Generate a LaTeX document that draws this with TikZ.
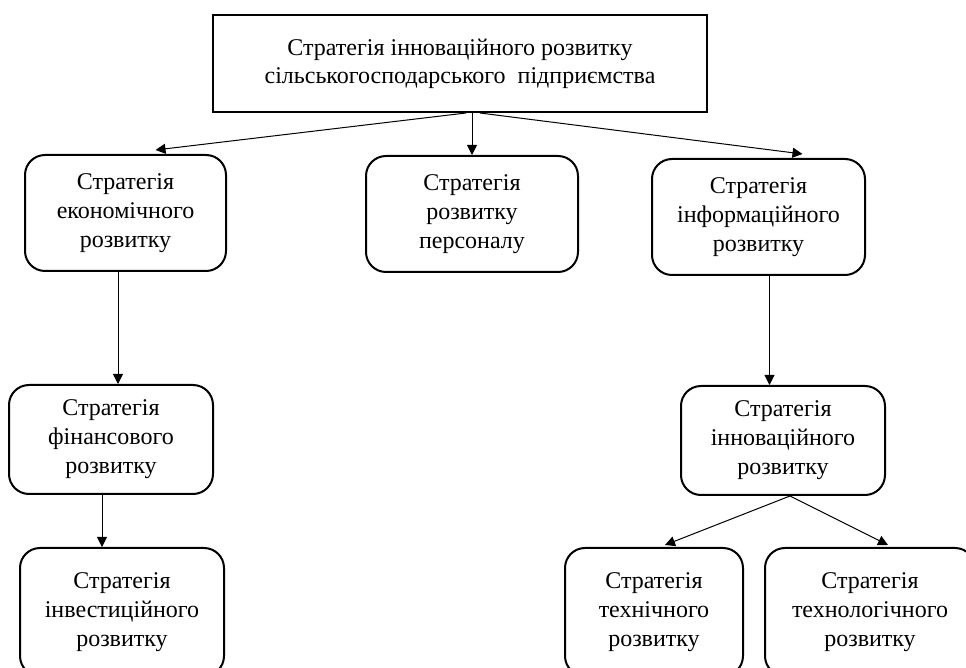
\documentclass[tikz,border=0pt]{standalone}
\usepackage{fontspec}
\setmainfont{Liberation Serif}
\usetikzlibrary{arrows.meta}

\tikzset{
	stratbox/.style={draw,rounded corners=10pt,line width=1pt,align=center,inner sep=0pt,font=\fontsize{12}{14.5}\selectfont},
	mainbox/.style={draw,line width=1pt,align=center,inner sep=0pt,font=\fontsize{12}{14}\selectfont},
	link/.style={-{Triangle[length=5pt,width=5pt]},line width=0.5pt}
}

\begin{document}
\begin{tikzpicture}[x=0.5pt,y=-0.5pt]
	% Page frame
	\useasboundingbox (0,0) rectangle (966,668);
	\clip (0,0) rectangle (966,668);

	% Main strategy
	\node[mainbox,minimum width=247pt,minimum height=48.5pt] (top) at (460,63.5) {Стратегія інноваційного розвитку\\сільськогосподарського\ \ підприємства};

	% First level
	\node[stratbox,minimum width=100.5pt,minimum height=58pt] (econ) at (125.5,213) {Стратегія\\економічного\\розвитку};
	\node[stratbox,minimum width=106pt,minimum height=58pt] (pers) at (472,214) {Стратегія\\розвитку\\персоналу};
	\node[stratbox,minimum width=106.5pt,minimum height=58pt] (info) at (758.5,217) {Стратегія\\інформаційного\\розвитку};

	% Second level
	\node[stratbox,minimum width=102pt,minimum height=54.5pt] (fin) at (111,439.5) {Стратегія\\фінансового\\розвитку};
	\node[stratbox,minimum width=102pt,minimum height=54.5pt] (innov) at (783,440.5) {Стратегія\\інноваційного\\розвитку};

	% Third level
	\node[stratbox,minimum width=102pt,minimum height=64pt] (invest) at (122,612) {Стратегія\\інвестиційного\\розвитку};
	\node[stratbox,minimum width=89pt,minimum height=64pt] (tech) at (654,612) {Стратегія\\технічного\\розвитку};
	\node[stratbox,minimum width=105pt,minimum height=64pt] (techn) at (870,612) {Стратегія\\технологічного\\розвитку};

	% Links from the main strategy
	\draw[link] ([xshift=3pt]top.south) -- ([xshift=15pt,yshift=2pt]econ.north);
	\draw[link] (pers.north |- top.south) -- (pers.north);
	\draw[link] ([xshift=10pt]top.south) -- ([xshift=22pt,yshift=2pt]info.north);

	% Links down the left branch
	\coordinate (econout) at ([xshift=-3.75pt]econ.south);
	\draw[link] (econout) -- (econout |- fin.north);
	\coordinate (finout) at ([xshift=-4.5pt]fin.south);
	\draw[link] (finout) -- (finout |- invest.north);

	% Links down the right branch
	\coordinate (infoout) at ([xshift=5.5pt]info.south);
	\draw[link] (infoout) -- (infoout |- innov.north);
	\coordinate (innovout) at ([xshift=3.5pt]innov.south);
	\draw[link] (innovout) -- ([xshift=5.5pt,yshift=1pt]tech.north);
	\draw[link] (innovout) -- ([xshift=9pt,yshift=1pt]techn.north);
\end{tikzpicture}
\end{document}
